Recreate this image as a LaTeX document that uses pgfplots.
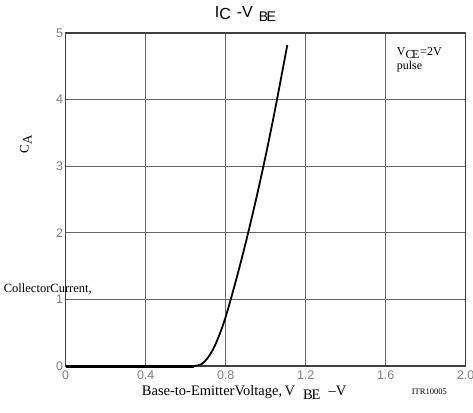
\documentclass[border=0pt]{standalone}
\usepackage{pgfplots}
\pgfplotsset{compat=1.18}
\usepackage{fontspec}
\setmainfont{Liberation Serif}
\newfontfamily\arial{Liberation Sans}
\begin{document}
\begin{tikzpicture}[x=1pt,y=1pt]
\useasboundingbox (-65.7,-46) rectangle (407.3,366);
\begin{axis}[
  at={(0,0)}, anchor=south west,
  scale only axis, width=400pt, height=333pt,
  xmin=0, xmax=2.0, ymin=0, ymax=5,
  xtick={0,0.4,0.8,1.2,1.6,2.0},
  xticklabels={0,0.4,0.8,1.2,1.6,2.0},
  ytick={0,1,2,3,4,5},
  grid=major,
  major grid style={draw=black!60, line width=0.8pt},
  axis line style={draw=black!75, line width=1.4pt},
  tick style={draw=none},
  tick label style={font=\arial\fontsize{12.5}{13}\selectfont, text=black!50},
  /pgf/number format/assume math mode=true,
  xticklabel style={yshift=-1pt},
  yticklabel style={xshift=1pt},
  clip=false,
]
\addplot[black, line width=3pt] coordinates {(0,0) (0.64,0)};
\addplot[black, line width=1.8pt, smooth, tension=0.5] coordinates {
(0.62,0) (0.65,0.002) (0.68,0.03) (0.71,0.12) (0.74,0.27) (0.77,0.48) (0.80,0.74)
(0.85,1.27) (0.90,1.85) (0.95,2.48) (1.00,3.16) (1.05,3.90) (1.108,4.82)};
\end{axis}
% title
\node[anchor=west, inner sep=0] at (149,352) {\arial\fontsize{16}{16}\selectfont I\raisebox{-2.5pt}{C}\hspace{6pt}-V\hspace{6pt}\raisebox{-4pt}{\fontsize{14}{14}\selectfont B\kern-1.5ptE}};
% x label
\node[anchor=base west, inner sep=0] at (76,-29) {\fontsize{14.5}{15}\selectfont Base-to-EmitterVoltage,\,V\hspace{8pt}\raisebox{-4pt}{B\kern-1ptE}\hspace{8pt}--V};
\node[anchor=base west, inner sep=0] at (346,-28) {\fontsize{8.5}{9}\selectfont ITR10005};
% annotation
\node[anchor=base west, inner sep=0] at (331,310) {\fontsize{12}{12}\selectfont V\raisebox{-3pt}{C\kern-1.5ptE}\kern1pt=2V};
\node[anchor=base west, inner sep=0] at (331,296) {\fontsize{12}{12}\selectfont pulse};
% y labels
\node[rotate=90, inner sep=0] at (-40,222) {\fontsize{13}{13}\selectfont C\raisebox{-3pt}{A}};
\node[anchor=base west, inner sep=0] at (-62,74) {\fontsize{12.5}{12.5}\selectfont CollectorCurrent,};
\end{tikzpicture}
\end{document}
